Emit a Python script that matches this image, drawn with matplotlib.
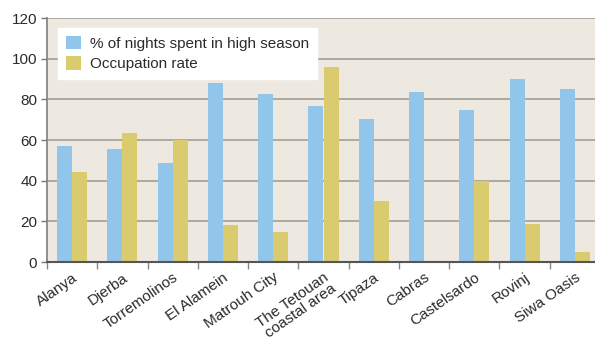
import matplotlib
matplotlib.use("Agg")
import matplotlib.pyplot as plt
import numpy as np

categories = ["Alanya", "Djerba", "Torremolinos", "El Alamein", "Matrouh City",
              "The Tetouan\ncoastal area", "Tipaza", "Cabras", "Castelsardo",
              "Rovinj", "Siwa Oasis"]
high_season = [57, 55.5, 48.5, 88, 82.5, 76.5, 70.5, 83.5, 75, 90, 85]
occupation = [44.5, 63.5, 60, 18, 15, 96, 30, 0, 40, 18.5, 5]
series_names = ["% of nights spent in high season", "Occupation rate"]
yticks = [0, 20, 40, 60, 80, 100, 120]

plt.rcParams["font.family"] = ["Liberation Sans", "DejaVu Sans"]

BLUE = "#92C5EA"
YELLOW = "#D9CB6E"
BG = "#EDE9E0"
GRID = "#A8A39B"
TEXT = "#2B2B2B"

fig = plt.figure(figsize=(5.95, 3.37), dpi=100)
W, H = 595, 337
ax = fig.add_axes([47 / W, 1 - 262 / H, 553 / W, 244 / H])
ax.set_facecolor(BG)

x = np.arange(len(categories))
w = 0.3
ax.bar(x - w / 2, high_season, width=w, color=BLUE, label=series_names[0], zorder=3)
ax.bar(x + w / 2, occupation, width=w, color=YELLOW, label=series_names[1], zorder=3)

ax.set_xlim(-0.5, len(categories) - 0.5)
ax.set_ylim(0, 120)
ax.set_yticks(yticks)
ax.set_yticklabels([str(v) for v in yticks], fontsize=11, color=TEXT)
ax.yaxis.grid(True, color=GRID, linewidth=1.3, zorder=1)
ax.tick_params(axis="y", length=4, color="#777777", width=1, pad=3)

ax.set_xticks(x)
ax.set_xticklabels(categories, rotation=35, ha="right", rotation_mode="anchor",
                   fontsize=11, color=TEXT, linespacing=0.9)
ax.tick_params(axis="x", which="major", length=0, pad=6)
ax.set_xticks(np.arange(-0.5, len(categories), 1.0), minor=True)
ax.tick_params(axis="x", which="minor", length=5, color="#888888", width=1)

for s in ["top", "right"]:
    ax.spines[s].set_visible(False)
ax.spines["left"].set_color("#8A8680")
ax.spines["left"].set_linewidth(1.3)
ax.spines["bottom"].set_color("#555555")
ax.spines["bottom"].set_linewidth(1.5)
ax.spines["bottom"].set_zorder(4)

leg = ax.legend(loc="upper left", bbox_to_anchor=(11 / 553, 1 - 10 / 244),
                frameon=True, fancybox=False, framealpha=1, edgecolor="white",
                facecolor="white", fontsize=11, handlelength=1.0, handleheight=1.0,
                handletextpad=0.6, borderpad=0.5, labelspacing=0.35,
                borderaxespad=0)
for t in leg.get_texts():
    t.set_color(TEXT)

fig.savefig("out.png", dpi=100)
